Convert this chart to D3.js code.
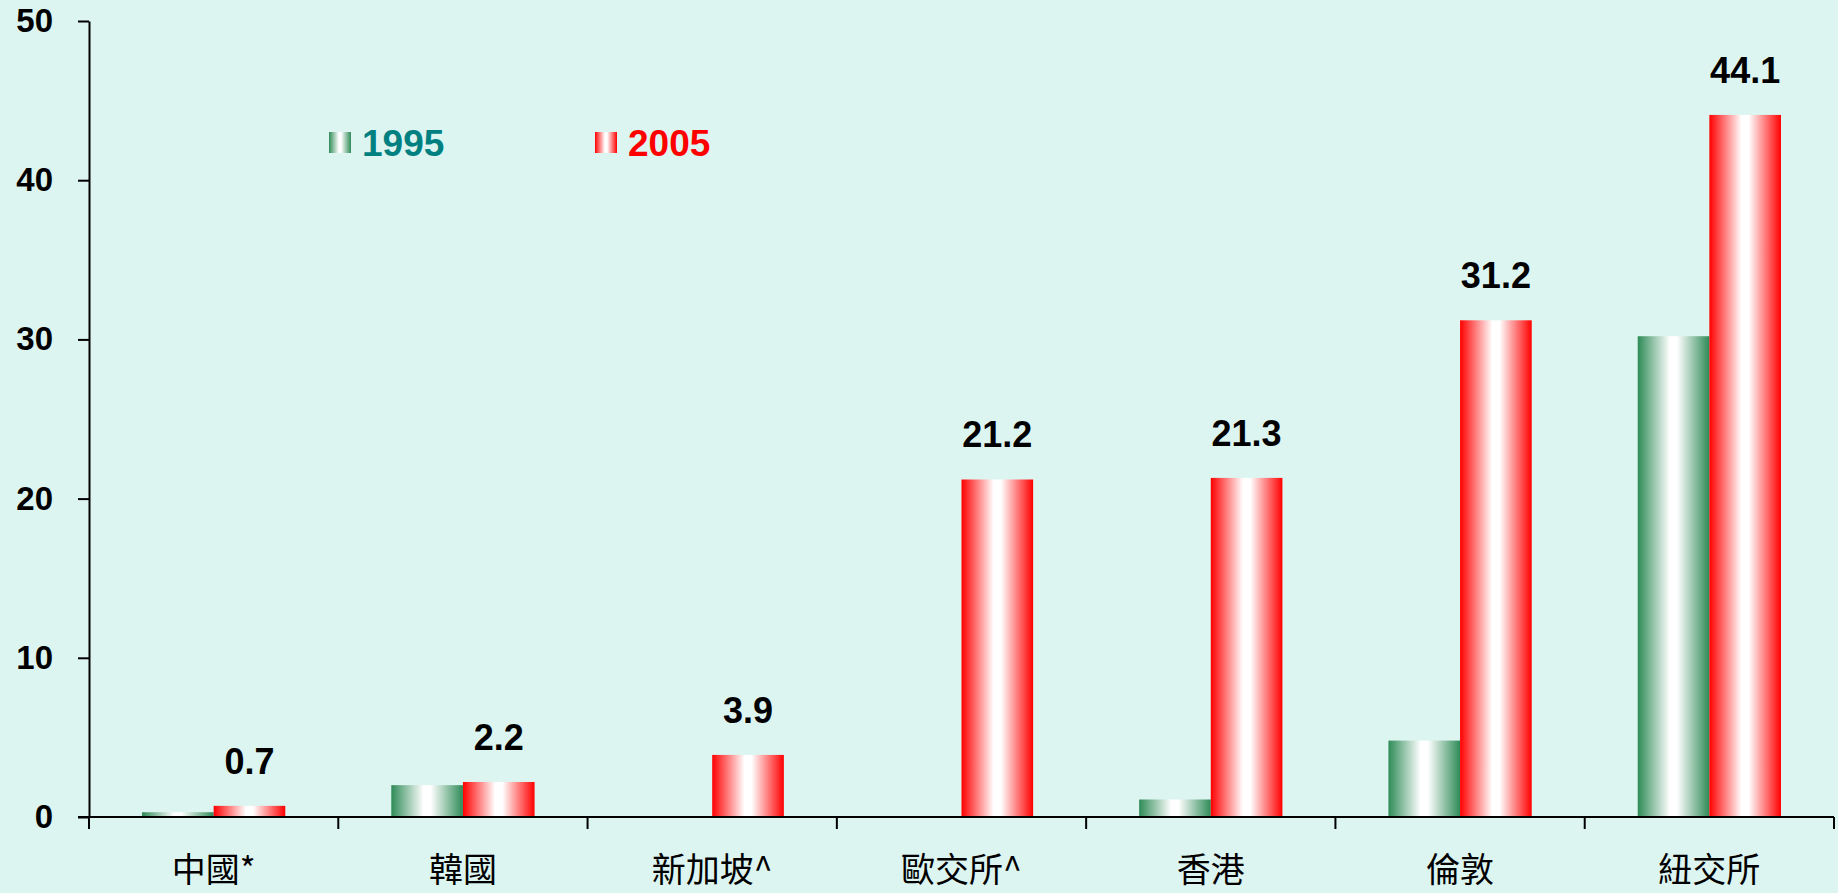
<!DOCTYPE html>
<html>
<head>
<meta charset="utf-8">
<script src="https://cdn.jsdelivr.net/npm/d3@7"></script>
<style>
  html, body { margin: 0; padding: 0; background: #ddf5f1; }
  svg { display: block; }
</style>
</head>
<body>
<script>
const categories = ["中國*", "韓國", "新加坡^", "歐交所^", "香港", "倫敦", "紐交所"];
const seriesNames = ["1995", "2005"];
const values1995 = [0.3, 2.0, 0, 0, 1.1, 4.8, 30.2];
const values2005 = [0.7, 2.2, 3.9, 21.2, 21.3, 31.2, 44.1];
const yTicks = [0, 10, 20, 30, 40, 50];

const width = 1838;
const height = 893;
const plotLeft = 89;
const plotRight = 1834;
const plotTop = 21;
const plotBottom = 817;

const svg = d3.select("body")
  .append("svg")
  .attr("width", width)
  .attr("height", height);

const defs = svg.append("defs");
const gradients = [
  { id: "g1995", color: "#2e8b57" },
  { id: "g2005", color: "#ff0000" }
];
gradients.forEach(g => {
  const lg = defs.append("linearGradient")
    .attr("id", g.id)
    .attr("x1", "0%").attr("x2", "100%")
    .attr("y1", "0%").attr("y2", "0%");
  lg.append("stop").attr("offset", "0%").attr("stop-color", g.color);
  lg.append("stop").attr("offset", "45%").attr("stop-color", "#ffffff");
  lg.append("stop").attr("offset", "55%").attr("stop-color", "#ffffff");
  lg.append("stop").attr("offset", "100%").attr("stop-color", g.color);
});

const x = d3.scaleBand()
  .domain(categories)
  .range([plotLeft, plotRight])
  .padding(0);

const xInner = d3.scaleBand()
  .domain(seriesNames)
  .range([0, x.bandwidth()])
  .paddingInner(0)
  .paddingOuter(0.74);

const y = d3.scaleLinear()
  .domain([0, 50])
  .range([plotBottom, plotTop]);

// y axis
const yAxis = svg.append("g")
  .attr("transform", `translate(${plotLeft},0)`)
  .call(d3.axisLeft(y).tickValues(yTicks).tickSize(11).tickSizeOuter(0).tickPadding(25));
yAxis.select(".domain").attr("stroke", "#000").attr("stroke-width", 2);
yAxis.selectAll(".tick line").attr("stroke", "#000").attr("stroke-width", 2);
yAxis.selectAll("text")
  .attr("font-family", "Liberation Sans, Arial, sans-serif")
  .attr("font-weight", "bold")
  .attr("font-size", 33)
  .attr("fill", "#000");

// bars
const data = categories.map((c, i) => ({ cat: c, vals: [values1995[i], values2005[i]] }));

const groups = svg.append("g")
  .selectAll("g")
  .data(data)
  .join("g")
  .attr("transform", d => `translate(${x(d.cat)},0)`);

groups.selectAll("rect")
  .data(d => d.vals.map((v, j) => ({ s: seriesNames[j], v })).filter(b => b.v > 0))
  .join("rect")
  .attr("x", d => xInner(d.s))
  .attr("y", d => y(d.v))
  .attr("width", xInner.bandwidth())
  .attr("height", d => plotBottom - y(d.v))
  .attr("fill", d => `url(#g${d.s})`);

// value labels on 2005 bars
groups.append("text")
  .attr("x", xInner("2005") + xInner.bandwidth() / 2)
  .attr("y", d => y(d.vals[1]) - 32)
  .attr("text-anchor", "middle")
  .attr("font-family", "Liberation Sans, Arial, sans-serif")
  .attr("font-weight", "bold")
  .attr("font-size", 36)
  .attr("fill", "#000")
  .text(d => d.vals[1].toFixed(1));

// x axis
const xAxis = svg.append("g");
xAxis.append("line")
  .attr("x1", plotLeft - 11).attr("x2", plotRight)
  .attr("y1", plotBottom).attr("y2", plotBottom)
  .attr("stroke", "#000").attr("stroke-width", 2);
const boundaries = categories.map(c => x(c)).concat([x(categories[categories.length - 1]) + x.bandwidth()]);
xAxis.selectAll(".xtick")
  .data(boundaries)
  .join("line")
  .attr("x1", d => d).attr("x2", d => d)
  .attr("y1", plotBottom).attr("y2", plotBottom + 12)
  .attr("stroke", "#000").attr("stroke-width", 2);
xAxis.selectAll(".xlabel")
  .data(categories)
  .join("text")
  .attr("x", d => x(d) + x.bandwidth() / 2)
  .attr("y", 882)
  .attr("text-anchor", "middle")
  .attr("font-family", "Noto Sans CJK TC, sans-serif")
  .attr("font-size", 34)
  .attr("fill", "#000")
  .text(d => d);

// legend
const legendItems = [
  { s: "1995", x: 329, color: "#008080" },
  { s: "2005", x: 595, color: "#ff0000" }
];
const legend = svg.append("g");
legendItems.forEach(item => {
  legend.append("rect")
    .attr("x", item.x).attr("y", 132)
    .attr("width", 22).attr("height", 21)
    .attr("fill", `url(#g${item.s})`);
  legend.append("text")
    .attr("x", item.x + 33).attr("y", 156)
    .attr("font-family", "Liberation Sans, Arial, sans-serif")
    .attr("font-weight", "bold")
    .attr("font-size", 37)
    .attr("fill", item.color)
    .text(item.s);
});
</script>
</body>
</html>
